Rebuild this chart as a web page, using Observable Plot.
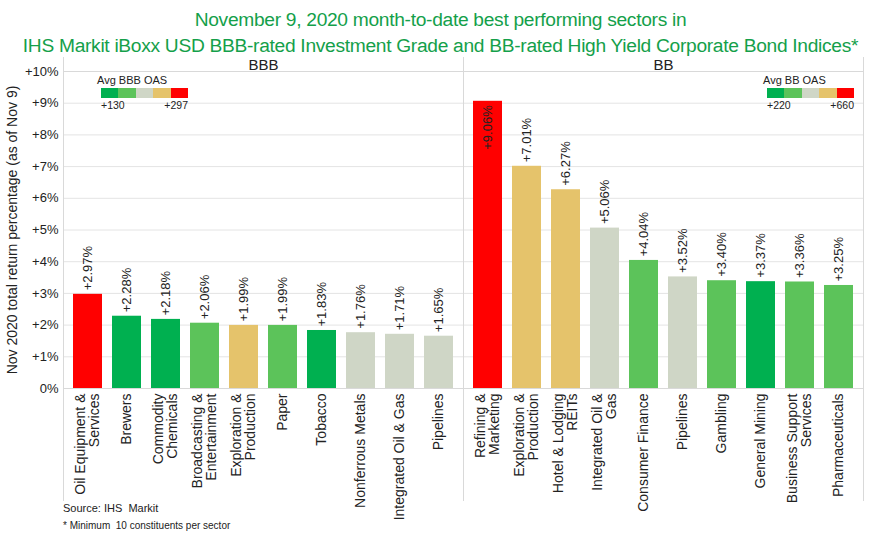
<!DOCTYPE html>
<html>
<head>
<meta charset="utf-8">
<script src="https://cdn.jsdelivr.net/npm/d3@7"></script>
<script src="https://cdn.jsdelivr.net/npm/@observablehq/plot@0.6"></script>
<style>
  html, body { margin: 0; padding: 0; background: #fff; }
  #wrap { position: relative; width: 881px; height: 540px; font-family: "Liberation Sans", Arial, sans-serif; overflow: hidden; background: #fff; }
  .title { position: absolute; left: 0; width: 881px; text-align: center; color: #14a04a; font-size: 19.2px; letter-spacing: -0.3px; white-space: nowrap; line-height: 22px; }
  #chart { position: absolute; left: 0; top: 55px; }
  .cap { position: absolute; left: 63px; color: #222; white-space: pre; }
  .leg { position: absolute; font-size: 10.5px; color: #222; }
  .strip { position: absolute; height: 10px; display: flex; }
  .strip div { flex: 1; height: 100%; }
</style>
</head>
<body>
<div id="wrap">
  <div id="chart"></div>
  <div class="title" style="top:9px">November 9, 2020 month-to-date best performing sectors in</div>
  <div class="title" style="top:35px">IHS Markit  iBoxx USD BBB-rated Investment Grade and BB-rated High Yield Corporate Bond Indices*</div>
  <div id="legends"></div>
  <div class="cap" style="top:502px;font-size:11px">Source: IHS  Markit</div>
  <div class="cap" style="top:520px;font-size:10px">* Minimum  10 constituents per sector</div>
</div>
<script>
// ---- data ----
const panels = ["BBB", "BB"];
const bbbSectors = ["Oil Equipment &\nServices", "Brewers", "Commodity\nChemicals", "Broadcasting &\nEntertainment", "Exploration &\nProduction", "Paper", "Tobacco", "Nonferrous Metals", "Integrated Oil & Gas", "Pipelines"];
const bbbValues = [2.97, 2.28, 2.18, 2.06, 1.99, 1.99, 1.83, 1.76, 1.71, 1.65];
const bbbBuckets = ["red", "dark", "dark", "light", "tan", "light", "dark", "gray", "gray", "gray"];
const bbSectors = ["Refining &\nMarketing", "Exploration &\nProduction", "Hotel & Lodging\nREITs", "Integrated Oil &\nGas", "Consumer Finance", "Pipelines", "Gambling", "General Mining", "Business Support\nServices", "Pharmaceuticals"];
const bbValues = [9.06, 7.01, 6.27, 5.06, 4.04, 3.52, 3.40, 3.37, 3.36, 3.25];
const bbBuckets = ["red", "tan", "tan", "gray", "light", "gray", "light", "dark", "light", "light"];
const yTicks = [0, 1, 2, 3, 4, 5, 6, 7, 8, 9, 10];
const yTitle = "Nov 2020 total return percentage (as of Nov 9)";
const bucketOrder = ["dark", "light", "gray", "tan", "red"];
const bucketColors = ["#00b050", "#5cc35a", "#cfd6c6", "#e5c36b", "#ff0000"];
const legendTitles = ["Avg BBB OAS", "Avg BB OAS"];
const legendLow = ["+130", "+220"];
const legendHigh = ["+297", "+660"];

const rows = [];
bbbSectors.forEach((s, i) => rows.push({panel: "BBB", rank: i + 1, sector: s, value: bbbValues[i], bucket: bbbBuckets[i]}));
bbSectors.forEach((s, i) => rows.push({panel: "BB", rank: i + 1, sector: s, value: bbValues[i], bucket: bbBuckets[i]}));

const fmt = v => "+" + v.toFixed(2) + "%";
const font = "Liberation Sans, Arial, sans-serif";

const chart = Plot.plot({
  width: 881,
  height: 485,
  marginLeft: 63,
  marginRight: 18,
  marginTop: 16,
  marginBottom: 152,
  style: {fontFamily: font, fontSize: "13px", color: "#222", overflow: "visible", background: "transparent"},
  fx: {domain: panels, padding: 0, label: null},
  x: {domain: d3.range(1, 11), padding: 0.25, axis: null},
  y: {domain: [0, 10], label: null},
  color: {domain: bucketOrder, range: bucketColors},
  marks: [
    Plot.gridY(yTicks, {stroke: "#e4e4e4", strokeOpacity: 1}),
    Plot.axisY(yTicks, {tickSize: 0, tickPadding: 5, fontSize: 13, tickFormat: d => d === 0 ? "0%" : "+" + d + "%", label: yTitle, labelAnchor: "center", labelArrow: "none", labelOffset: 56}),
    Plot.axisFx({anchor: "top", tickSize: 0, tickPadding: 2, fontSize: 15, label: null}),
    Plot.barY(rows, {fx: "panel", x: "rank", y: "value", fill: "bucket"}),
    Plot.text(rows.filter(d => d.value < 8.5), {fx: "panel", x: "rank", y: "value", text: d => fmt(d.value), rotate: -90, textAnchor: "start", dy: -4, fontSize: 13, fill: "#222"}),
    Plot.text(rows.filter(d => d.value >= 8.5), {fx: "panel", x: "rank", y: "value", text: d => fmt(d.value), rotate: -90, textAnchor: "end", dy: 4, fontSize: 13, fill: "#222"}),
    Plot.text(rows, {fx: "panel", x: "rank", text: "sector", frameAnchor: "bottom", rotate: -90, textAnchor: "end", lineAnchor: "middle", dy: 5, fontSize: 14, fill: "#222", lineHeight: 1.0}),
    Plot.frame({stroke: "#d9d9d9"}),
    Plot.frame({anchor: "left", stroke: "#d9d9d9", insetTop: -14, insetBottom: -112}),
    Plot.frame({anchor: "right", stroke: "#d9d9d9", insetTop: -14, insetBottom: -112})
  ]
});
chart.querySelectorAll("text").forEach(t => { if (t.textContent === yTitle) t.setAttribute("font-size", "14"); });
document.getElementById("chart").appendChild(chart);

// small OAS colour keys drawn from the same colour arrays
const legPos = [{x: 101, w: 87}, {x: 767, w: 87}];
const lg = document.getElementById("legends");
legPos.forEach((p, k) => {
  const t = document.createElement("div");
  t.className = "leg"; t.style.left = (p.x - 4) + "px"; t.style.top = "74px"; t.style.fontSize = "11px";
  t.textContent = legendTitles[k]; lg.appendChild(t);
  const s = document.createElement("div");
  s.className = "strip"; s.style.left = p.x + "px"; s.style.top = "88px"; s.style.width = p.w + "px";
  bucketColors.forEach(c => { const b = document.createElement("div"); b.style.background = c; s.appendChild(b); });
  lg.appendChild(s);
  const lo = document.createElement("div");
  lo.className = "leg"; lo.style.left = p.x + "px"; lo.style.top = "99px"; lo.textContent = legendLow[k]; lg.appendChild(lo);
  const hi = document.createElement("div");
  hi.className = "leg"; hi.style.left = (p.x + p.w - 40) + "px"; hi.style.width = "40px"; hi.style.textAlign = "right"; hi.style.top = "99px"; hi.textContent = legendHigh[k]; lg.appendChild(hi);
});
</script>
</body>
</html>
